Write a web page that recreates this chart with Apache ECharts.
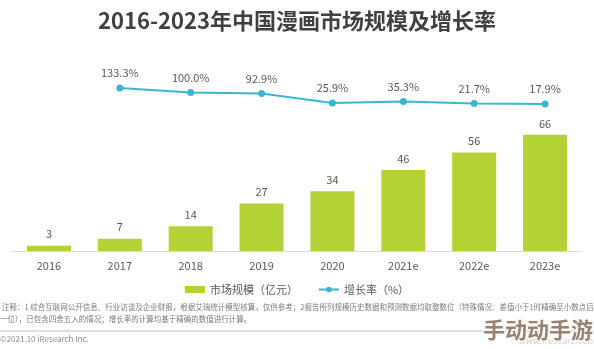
<!DOCTYPE html>
<html>
<head>
<meta charset="utf-8">
<script src="https://cdn.jsdelivr.net/npm/echarts@6/dist/echarts.min.js"></script>
<style>
html,body{margin:0;padding:0;background:#fff;}
#c{width:594px;height:349px;}
</style>
</head>
<body>
<div id="c"></div>
<script>
const titleText = '2016-2023年中国漫画市场规模及增长率';
const categories = ['2016', '2017', '2018', '2019', '2020', '2021e', '2022e', '2023e'];
const marketSize = [3, 7, 14, 27, 34, 46, 56, 66];
const growthRate = ['-', 133.3, 100.0, 92.9, 25.9, 35.3, 21.7, 17.9];
const seriesNames = ['市场规模（亿元）', '增长率（%）'];
const noteLine1 = '注释：1 综合互联网公开信息、行业访谈及企业财报，根据艾瑞统计模型核算，仅供参考；2报告所列规模历史数据和预测数据均取整数位（特殊情况：差值小于1时精确至小数点后';
const noteLine2 = '一位），已包含四舍五入的情况；增长率的计算均基于精确的数值进行计算。';
const copyright = '©2021.10 iResearch Inc.';
const watermark = '手动动手游';
const watermarkSub = 'www.iresearch.com.cn';

const FONT = '"Noto Sans CJK SC", "Noto Sans", sans-serif';
const chart = echarts.init(document.getElementById('c'), null, {renderer: 'canvas'});
chart.setOption({
  backgroundColor: '#ffffff',
  animation: false,
  textStyle: {fontFamily: FONT},
  title: {
    text: titleText,
    left: 'center',
    top: 5,
    textStyle: {fontSize: 22, fontWeight: 'bold', color: '#404040', fontFamily: FONT}
  },
  legend: {
    data: [
      {name: seriesNames[0], icon: 'rect'},
      {name: seriesNames[1]}
    ],
    left: 'center',
    top: 279,
    itemWidth: 20,
    itemHeight: 7,
    itemGap: 20,
    textStyle: {fontSize: 11, color: '#595959', fontFamily: FONT}
  },
  grid: [
    {left: 13.5, right: 13.5, top: 75, bottom: 98},
    {left: 13.5, right: 13.5, top: 88, bottom: 242.5}
  ],
  xAxis: [
    {
      type: 'category', gridIndex: 0, data: categories,
      axisLine: {lineStyle: {color: '#d9d9d9', width: 1}},
      axisTick: {show: false},
      axisLabel: {fontSize: 11, color: '#595959', margin: 9, fontFamily: FONT}
    },
    {
      type: 'category', gridIndex: 1, data: categories,
      show: false
    }
  ],
  yAxis: [
    {type: 'value', gridIndex: 0, min: 0, max: 100, show: false, splitLine: {show: false}},
    {type: 'value', gridIndex: 1, min: 0, max: 133.3, show: false, splitLine: {show: false}}
  ],
  series: [
    {
      name: seriesNames[0], type: 'bar', xAxisIndex: 0, yAxisIndex: 0,
      data: marketSize, barWidth: 44,
      itemStyle: {color: '#b3d236'},
      label: {show: true, position: 'top', distance: 6, fontSize: 11, color: '#595959', fontFamily: FONT}
    },
    {
      name: seriesNames[1], type: 'line', xAxisIndex: 1, yAxisIndex: 1,
      data: growthRate,
      symbol: 'circle', symbolSize: 7,
      lineStyle: {color: '#3db5d2', width: 2},
      itemStyle: {color: '#3db5d2'},
      label: {show: true, position: 'top', distance: 6, fontSize: 11, color: '#595959', fontFamily: FONT,
        formatter: p => p.value.toFixed(1) + '%'}
    }
  ],
  graphic: [
    {type: 'text', left: 2, top: 303, style: {text: noteLine1, fontSize: 7.5, fill: '#7a7a7a', fontFamily: FONT}},
    {type: 'text', left: 0, top: 315, style: {text: noteLine2, fontSize: 7.5, fill: '#7a7a7a', fontFamily: FONT}},
    {type: 'line', shape: {x1: 0, y1: 331, x2: 594, y2: 331}, style: {stroke: '#bfbfbf', lineWidth: 1}},
    {type: 'text', left: 0, top: 335, style: {text: copyright, fontSize: 8, fill: '#8c8c8c', fontFamily: FONT}},
    {type: 'text', left: 518, top: 336, style: {text: watermarkSub, fontSize: 9, fill: '#cfcfcf', fontFamily: FONT, fontStyle: 'italic'}},
    {type: 'text', left: 482, top: 318, style: {text: watermark, fontSize: 22, fontWeight: 'bold', fill: '#9a8270', fontFamily: FONT, stroke: '#ffffff', lineWidth: 2}}
  ]
});
</script>
</body>
</html>
